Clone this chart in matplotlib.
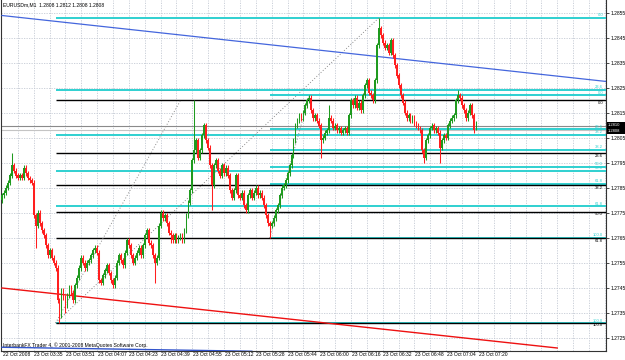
#!/usr/bin/env python3

import numpy as np
import matplotlib
matplotlib.use("Agg")
import matplotlib.pyplot as plt
import matplotlib.transforms as mtransforms
from matplotlib.patches import Rectangle

plt.rcParams["font.family"] = ["Liberation Sans", "DejaVu Sans"]

# EURUSDm M1 bars, 23 Oct 2008
opens = [
    1.2780, 1.2782, 1.2783, 1.2785, 1.2787, 1.2790, 1.2794, 1.2792, 1.2790, 1.2789,
    1.2790, 1.2789, 1.2793, 1.2791, 1.2789, 1.2788, 1.2787, 1.2774, 1.2770, 1.2775,
    1.2771, 1.2768, 1.2766, 1.2762, 1.2758, 1.2760, 1.2757, 1.2755, 1.2753, 1.2740,
    1.2734, 1.2744, 1.2741, 1.2738, 1.2742, 1.2745, 1.2743, 1.2740, 1.2746, 1.2749,
    1.2753, 1.2757, 1.2755, 1.2753, 1.2755, 1.2756, 1.2758, 1.2760, 1.2761, 1.2759,
    1.2748, 1.2747, 1.2750, 1.2752, 1.2754, 1.2751, 1.2748, 1.2746, 1.2749, 1.2755,
    1.2758, 1.2756, 1.2754, 1.2759, 1.2764, 1.2762, 1.2758, 1.2755, 1.2757, 1.2759,
    1.2761, 1.2758, 1.2762, 1.2766, 1.2768, 1.2763, 1.2762, 1.2758, 1.2755, 1.2757,
    1.2770, 1.2775, 1.2773, 1.2774, 1.2771, 1.2767, 1.2766, 1.2764, 1.2766, 1.2764,
    1.2765, 1.2766, 1.2764, 1.2768, 1.2774, 1.2779, 1.2784, 1.2796, 1.2800, 1.2804,
    1.2797, 1.2800, 1.2806, 1.2810, 1.2804, 1.2801, 1.2794, 1.2786, 1.2794, 1.2796,
    1.2792, 1.2790, 1.2794, 1.2791, 1.2793, 1.2790, 1.2784, 1.2781, 1.2784, 1.2790,
    1.2782, 1.2781, 1.2783, 1.2778, 1.2776, 1.2782, 1.2784, 1.2781, 1.2783, 1.2785,
    1.2782, 1.2783, 1.2781, 1.2778, 1.2774, 1.2771, 1.2770, 1.2771, 1.2773, 1.2776,
    1.2778, 1.2782, 1.2785, 1.2786, 1.2788, 1.2791, 1.2794, 1.2798, 1.2804, 1.2810,
    1.2812, 1.2814, 1.2813, 1.2815, 1.2818, 1.2820, 1.2821, 1.2816, 1.2813, 1.2814,
    1.2812, 1.2810, 1.2804, 1.2805, 1.2807, 1.2808, 1.2813, 1.2812, 1.2809, 1.2810,
    1.2808, 1.2809, 1.2807, 1.2808, 1.2809, 1.2807, 1.2814, 1.2820, 1.2818, 1.2821,
    1.2817, 1.2819, 1.2816, 1.2822, 1.2826, 1.2828, 1.2823, 1.2822, 1.2820, 1.2828,
    1.2842, 1.2849, 1.2846, 1.2843, 1.2841, 1.2842, 1.2839, 1.2844, 1.2838, 1.2834,
    1.2830, 1.2826, 1.2822, 1.2819, 1.2815, 1.2813, 1.2814, 1.2812, 1.2813, 1.2811,
    1.2810, 1.2809, 1.2808, 1.2800, 1.2797, 1.2804, 1.2806, 1.2809, 1.2810, 1.2808,
    1.2809, 1.2807, 1.2801, 1.2804, 1.2806, 1.2805, 1.2810, 1.2812, 1.2813, 1.2814,
    1.2820, 1.2822, 1.2821, 1.2818, 1.2816, 1.2813, 1.2815, 1.2818, 1.2814, 1.2808,
]
highs = [
    1.2783, 1.2784, 1.2786, 1.2788, 1.2791, 1.2799, 1.2795, 1.2793, 1.2791, 1.2791,
    1.2791, 1.2794, 1.2794, 1.2792, 1.2790, 1.2789, 1.2788, 1.2775, 1.2776, 1.2776,
    1.2772, 1.2769, 1.2767, 1.2763, 1.2761, 1.2761, 1.2758, 1.2756, 1.2754, 1.2741,
    1.2745, 1.2745, 1.2742, 1.2743, 1.2746, 1.2746, 1.2744, 1.2747, 1.2750, 1.2754,
    1.2758, 1.2758, 1.2756, 1.2756, 1.2757, 1.2759, 1.2761, 1.2762, 1.2762, 1.2760,
    1.2749, 1.2751, 1.2753, 1.2755, 1.2755, 1.2752, 1.2749, 1.2750, 1.2756, 1.2759,
    1.2759, 1.2757, 1.2760, 1.2765, 1.2765, 1.2763, 1.2759, 1.2758, 1.2760, 1.2762,
    1.2762, 1.2763, 1.2767, 1.2769, 1.2769, 1.2764, 1.2763, 1.2759, 1.2758, 1.2771,
    1.2776, 1.2776, 1.2775, 1.2775, 1.2772, 1.2768, 1.2767, 1.2767, 1.2767, 1.2766,
    1.2767, 1.2767, 1.2769, 1.2775, 1.2780, 1.2785, 1.2797, 1.2820, 1.2805, 1.2805,
    1.2801, 1.2807, 1.2811, 1.2811, 1.2805, 1.2802, 1.2795, 1.2795, 1.2797, 1.2797,
    1.2793, 1.2795, 1.2795, 1.2794, 1.2794, 1.2791, 1.2785, 1.2785, 1.2791, 1.2791,
    1.2783, 1.2784, 1.2784, 1.2779, 1.2783, 1.2785, 1.2785, 1.2784, 1.2786, 1.2786,
    1.2784, 1.2784, 1.2782, 1.2779, 1.2775, 1.2772, 1.2772, 1.2774, 1.2777, 1.2779,
    1.2783, 1.2786, 1.2787, 1.2789, 1.2792, 1.2795, 1.2799, 1.2805, 1.2811, 1.2813,
    1.2815, 1.2815, 1.2816, 1.2819, 1.2821, 1.2822, 1.2822, 1.2817, 1.2815, 1.2815,
    1.2813, 1.2811, 1.2806, 1.2808, 1.2809, 1.2818, 1.2814, 1.2813, 1.2811, 1.2811,
    1.2810, 1.2810, 1.2809, 1.2810, 1.2810, 1.2815, 1.2821, 1.2821, 1.2822, 1.2822,
    1.2820, 1.2820, 1.2823, 1.2827, 1.2829, 1.2829, 1.2824, 1.2823, 1.2829, 1.2843,
    1.2853, 1.2850, 1.2847, 1.2844, 1.2843, 1.2843, 1.2845, 1.2845, 1.2839, 1.2835,
    1.2831, 1.2827, 1.2823, 1.2820, 1.2816, 1.2815, 1.2815, 1.2814, 1.2814, 1.2812,
    1.2811, 1.2810, 1.2809, 1.2801, 1.2805, 1.2807, 1.2810, 1.2811, 1.2811, 1.2810,
    1.2810, 1.2808, 1.2805, 1.2807, 1.2807, 1.2811, 1.2813, 1.2814, 1.2815, 1.2821,
    1.2824, 1.2823, 1.2822, 1.2819, 1.2817, 1.2816, 1.2819, 1.2819, 1.2815, 1.2812,
]
lows = [
    1.2779, 1.2781, 1.2782, 1.2784, 1.2786, 1.2789, 1.2791, 1.2789, 1.2788, 1.2788,
    1.2788, 1.2788, 1.2790, 1.2788, 1.2787, 1.2786, 1.2773, 1.2761, 1.2769, 1.2770,
    1.2767, 1.2765, 1.2761, 1.2757, 1.2757, 1.2756, 1.2754, 1.2752, 1.2739, 1.2731,
    1.2733, 1.2740, 1.2735, 1.2737, 1.2741, 1.2742, 1.2739, 1.2739, 1.2745, 1.2748,
    1.2752, 1.2754, 1.2752, 1.2752, 1.2754, 1.2755, 1.2757, 1.2759, 1.2758, 1.2747,
    1.2746, 1.2746, 1.2749, 1.2751, 1.2750, 1.2747, 1.2745, 1.2745, 1.2748, 1.2754,
    1.2755, 1.2753, 1.2753, 1.2758, 1.2761, 1.2757, 1.2754, 1.2754, 1.2756, 1.2758,
    1.2757, 1.2757, 1.2761, 1.2765, 1.2762, 1.2761, 1.2757, 1.2747, 1.2754, 1.2756,
    1.2769, 1.2772, 1.2772, 1.2770, 1.2766, 1.2763, 1.2763, 1.2763, 1.2763, 1.2763,
    1.2764, 1.2763, 1.2763, 1.2767, 1.2773, 1.2778, 1.2783, 1.2795, 1.2799, 1.2796,
    1.2796, 1.2799, 1.2805, 1.2803, 1.2800, 1.2793, 1.2776, 1.2785, 1.2793, 1.2791,
    1.2789, 1.2789, 1.2790, 1.2790, 1.2789, 1.2783, 1.2780, 1.2780, 1.2783, 1.2781,
    1.2780, 1.2780, 1.2777, 1.2775, 1.2775, 1.2781, 1.2780, 1.2780, 1.2782, 1.2781,
    1.2781, 1.2780, 1.2777, 1.2773, 1.2770, 1.2765, 1.2769, 1.2770, 1.2772, 1.2775,
    1.2777, 1.2781, 1.2784, 1.2785, 1.2787, 1.2790, 1.2793, 1.2797, 1.2803, 1.2809,
    1.2811, 1.2812, 1.2812, 1.2814, 1.2817, 1.2819, 1.2815, 1.2812, 1.2812, 1.2811,
    1.2809, 1.2797, 1.2803, 1.2804, 1.2806, 1.2807, 1.2811, 1.2808, 1.2808, 1.2807,
    1.2807, 1.2806, 1.2806, 1.2807, 1.2806, 1.2806, 1.2813, 1.2817, 1.2817, 1.2816,
    1.2816, 1.2815, 1.2815, 1.2821, 1.2825, 1.2822, 1.2821, 1.2819, 1.2819, 1.2827,
    1.2841, 1.2845, 1.2842, 1.2840, 1.2840, 1.2838, 1.2838, 1.2837, 1.2833, 1.2829,
    1.2825, 1.2821, 1.2818, 1.2814, 1.2812, 1.2812, 1.2811, 1.2811, 1.2810, 1.2809,
    1.2808, 1.2807, 1.2799, 1.2795, 1.2796, 1.2803, 1.2805, 1.2808, 1.2807, 1.2807,
    1.2806, 1.2795, 1.2800, 1.2803, 1.2804, 1.2804, 1.2809, 1.2811, 1.2812, 1.2813,
    1.2819, 1.2820, 1.2817, 1.2815, 1.2812, 1.2812, 1.2814, 1.2813, 1.2807, 1.2808,
]
closes = [
    1.2782, 1.2783, 1.2785, 1.2787, 1.2790, 1.2794, 1.2792, 1.2790, 1.2789, 1.2790,
    1.2789, 1.2793, 1.2791, 1.2789, 1.2788, 1.2787, 1.2774, 1.2770, 1.2775, 1.2771,
    1.2768, 1.2766, 1.2762, 1.2758, 1.2760, 1.2757, 1.2755, 1.2753, 1.2740, 1.2734,
    1.2744, 1.2741, 1.2738, 1.2742, 1.2745, 1.2743, 1.2740, 1.2746, 1.2749, 1.2753,
    1.2757, 1.2755, 1.2753, 1.2755, 1.2756, 1.2758, 1.2760, 1.2761, 1.2759, 1.2748,
    1.2747, 1.2750, 1.2752, 1.2754, 1.2751, 1.2748, 1.2746, 1.2749, 1.2755, 1.2758,
    1.2756, 1.2754, 1.2759, 1.2764, 1.2762, 1.2758, 1.2755, 1.2757, 1.2759, 1.2761,
    1.2758, 1.2762, 1.2766, 1.2768, 1.2763, 1.2762, 1.2758, 1.2755, 1.2757, 1.2770,
    1.2775, 1.2773, 1.2774, 1.2771, 1.2767, 1.2766, 1.2764, 1.2766, 1.2764, 1.2765,
    1.2766, 1.2764, 1.2768, 1.2774, 1.2779, 1.2784, 1.2796, 1.2800, 1.2804, 1.2797,
    1.2800, 1.2806, 1.2810, 1.2804, 1.2801, 1.2794, 1.2786, 1.2794, 1.2796, 1.2792,
    1.2790, 1.2794, 1.2791, 1.2793, 1.2790, 1.2784, 1.2781, 1.2784, 1.2790, 1.2782,
    1.2781, 1.2783, 1.2778, 1.2776, 1.2782, 1.2784, 1.2781, 1.2783, 1.2785, 1.2782,
    1.2783, 1.2781, 1.2778, 1.2774, 1.2771, 1.2770, 1.2771, 1.2773, 1.2776, 1.2778,
    1.2782, 1.2785, 1.2786, 1.2788, 1.2791, 1.2794, 1.2798, 1.2804, 1.2810, 1.2812,
    1.2814, 1.2813, 1.2815, 1.2818, 1.2820, 1.2821, 1.2816, 1.2813, 1.2814, 1.2812,
    1.2810, 1.2804, 1.2805, 1.2807, 1.2808, 1.2813, 1.2812, 1.2809, 1.2810, 1.2808,
    1.2809, 1.2807, 1.2808, 1.2809, 1.2807, 1.2814, 1.2820, 1.2818, 1.2821, 1.2817,
    1.2819, 1.2816, 1.2822, 1.2826, 1.2828, 1.2823, 1.2822, 1.2820, 1.2828, 1.2842,
    1.2849, 1.2846, 1.2843, 1.2841, 1.2842, 1.2839, 1.2844, 1.2838, 1.2834, 1.2830,
    1.2826, 1.2822, 1.2819, 1.2815, 1.2813, 1.2814, 1.2812, 1.2813, 1.2811, 1.2810,
    1.2809, 1.2808, 1.2800, 1.2797, 1.2804, 1.2806, 1.2809, 1.2810, 1.2808, 1.2809,
    1.2807, 1.2801, 1.2804, 1.2806, 1.2805, 1.2810, 1.2812, 1.2813, 1.2814, 1.2820,
    1.2822, 1.2821, 1.2818, 1.2816, 1.2813, 1.2815, 1.2818, 1.2814, 1.2808, 1.2808,
]

# time axis labels: bar index -> text
time_label_bars = [0, 16, 32, 48, 64, 80, 96, 112, 128, 144, 160, 176, 192, 208, 224, 240]
time_labels = ["22 Oct 2008", "23 Oct 03:35", "23 Oct 03:51", "23 Oct 04:07", "23 Oct 04:23",
               "23 Oct 04:39", "23 Oct 04:55", "23 Oct 05:12", "23 Oct 05:28", "23 Oct 05:44",
               "23 Oct 06:00", "23 Oct 06:16", "23 Oct 06:32", "23 Oct 06:48", "23 Oct 07:04",
               "23 Oct 07:20"]
price_ticks = [1.2725, 1.2735, 1.2745, 1.2755, 1.2765, 1.2775, 1.2785, 1.2795,
               1.2805, 1.2815, 1.2825, 1.2835, 1.2845, 1.2855]

# fibonacci retracements: bar where the levels start, 0% price, 100% price, anchor bars
fib_ratios = [0.0, 23.6, 38.2, 50.0, 61.8, 100.0]
fib_a = {"start": 27, "top": 1.2853, "bottom": 1.2731, "anchor_bars": [27, 190]}
fib_b = {"start": 135, "top": 1.2822, "bottom": 1.2765, "anchor_bars": [135, 155]}
fib_c = {"start": 27, "top": 1.2820, "bottom": 1.2731, "anchor_bars": [27, 90]}

# trend lines (bar, price)
blue_trend_bars = [0, 306]
blue_trend_prices = [1.2854, 1.28275]
red_trend_bars = [0, 280]
red_trend_prices = [1.2745, 1.2721]
low_blue_bars = [0, 126]
low_blue_prices = [1.27213, 1.27197]

ask_price = 1.2810
bid_price = 1.2808
title_text = "EURUSDm,M1  1.2808 1.2812 1.2808 1.2808"
copyright_text = "InterbankFX Trader 4, \u00a9 2001-2008 MetaQuotes Software Corp."

BULL = "#1F9A1F"
BEAR = "#FF1F1F"
FIB_CYAN = "#2FD0D0"
GRID = "#C4CAD4"
FS = 3.6

W, H = 625, 360
PX_PER_BAR = 1.983
AX_LEFT, AX_RIGHT, AX_BOTTOM = 1, 606, 351
Y_TOP = 1.28602
PRICE_PER_PX = 0.00004


def draw_candles(ax):
    o = np.array(opens)
    h = np.array(highs)
    l = np.array(lows)
    c = np.array(closes)
    x = np.arange(len(c))
    colors = np.where(c >= o, BULL, BEAR)
    ax.vlines(x, l, h, colors=colors, lw=0.75, zorder=4)
    body_lo = np.minimum(o, c)
    body_h = np.maximum(np.abs(c - o), 0.00002)
    ax.bar(x, body_h, bottom=body_lo, width=0.9, color=colors, lw=0, zorder=5)


def draw_fib(ax, fib, color, lw, x_end, label_below=False):
    rng = fib["top"] - fib["bottom"]
    for r in fib_ratios:
        lvl = fib["top"] - r / 100.0 * rng
        ax.hlines(lvl, fib["start"], x_end, colors=color, lw=lw, zorder=3)
        if label_below:
            ax.text(x_end - 1.5, lvl - 0.00002, f"{r:.1f}", color=color, fontsize=3.0,
                    ha="right", va="top", zorder=6)
        else:
            ax.text(x_end - 1.5, lvl + 0.00002, f"{r:.1f}", color=color, fontsize=3.0,
                    ha="right", va="bottom", zorder=6)
    ax.plot(fib["anchor_bars"], [fib["bottom"], fib["top"]], color="#8C8C8C",
            lw=0.7, linestyle=(0, (1, 2)), zorder=3)


def main():
    fig = plt.figure(figsize=(W / 100, H / 100), dpi=100)
    ax = fig.add_axes([AX_LEFT / W, (H - AX_BOTTOM) / H, (AX_RIGHT - AX_LEFT) / W, AX_BOTTOM / H])

    x0 = -0.5
    x1 = x0 + (AX_RIGHT - AX_LEFT) / PX_PER_BAR
    y0 = Y_TOP - AX_BOTTOM * PRICE_PER_PX
    ax.set_xlim(x0, x1)
    ax.set_ylim(y0, Y_TOP)

    # grid
    for p in price_ticks:
        ax.axhline(p, color=GRID, lw=0.6, linestyle=(0, (1.5, 1.5)), zorder=1)
    for b in range(8, int(x1) + 1, 8):
        ax.axvline(b, color=GRID, lw=0.6, linestyle=(0, (1.5, 1.5)), zorder=1)

    # bid / ask
    ax.axhline(ask_price, color="#8A8A8A", lw=0.8, zorder=2)
    ax.axhline(bid_price, color="#C4C4C4", lw=0.8, zorder=2)

    draw_fib(ax, fib_a, FIB_CYAN, 1.4, x1)
    draw_fib(ax, fib_b, FIB_CYAN, 1.4, x1)
    draw_fib(ax, fib_c, "black", 1.0, x1, label_below=True)

    ax.plot(blue_trend_bars, blue_trend_prices, color="#4466DD", lw=0.9, zorder=3)
    ax.plot(red_trend_bars, red_trend_prices, color="#EE1111", lw=1.0, zorder=3)
    ax.plot(low_blue_bars, low_blue_prices, color="#3355CC", lw=1.0, zorder=3)

    draw_candles(ax)

    # axes look
    ax.spines["top"].set_visible(False)
    for s in ("left", "right", "bottom"):
        ax.spines[s].set_color("#333333")
        ax.spines[s].set_linewidth(0.8)
    ax.set_xticks([])
    ax.yaxis.tick_right()
    ax.set_yticks(price_ticks)
    ax.set_yticklabels([f"{p:.4f}" for p in price_ticks])
    ax.tick_params(axis="y", length=2, width=0.5, pad=1.5, labelsize=FS, colors="black")

    # time labels below the plot
    trans = mtransforms.blended_transform_factory(ax.transData, fig.transFigure)
    for b, lab in zip(time_label_bars, time_labels):
        ax.text(b + 0.3, (H - 355) / H, lab, transform=trans, fontsize=FS,
                ha="left", va="center", clip_on=False)

    fig.text(3 / W, (H - 5) / H, title_text, fontsize=FS, ha="left", va="center")
    fig.text(3 / W, (H - 345) / H, copyright_text, fontsize=FS, ha="left", va="center")

    # current price box
    box_y = (H - 134) / H
    fig.patches.append(Rectangle((607 / W, box_y), 18 / W, 12 / H, transform=fig.transFigure,
                                 facecolor="black", edgecolor="none", zorder=10))
    fig.text(608 / W, (H - 125) / H, f"{ask_price:.4f}", color="white", fontsize=3.0,
             ha="left", va="center", zorder=11)
    fig.text(608 / W, (H - 131) / H, f"{bid_price:.4f}", color="white", fontsize=3.0,
             ha="left", va="center", zorder=11)

    fig.savefig("out.png", dpi=100, facecolor="white")
    plt.close(fig)


if __name__ == "__main__":
    main()
